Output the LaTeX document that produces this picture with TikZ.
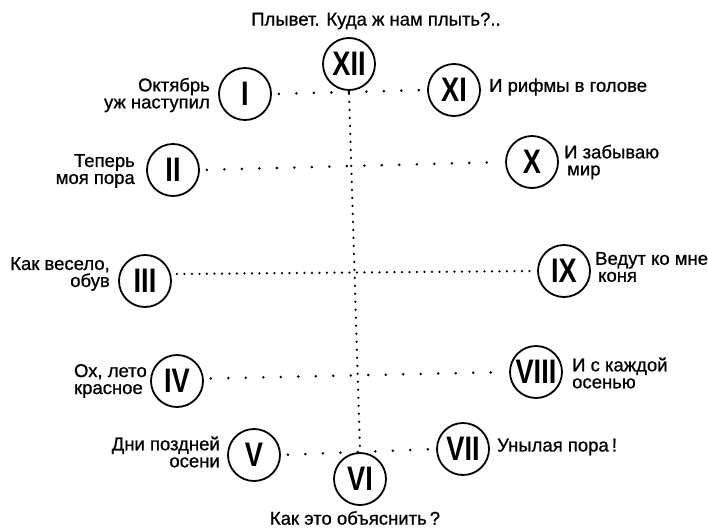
\documentclass[tikz,border=0pt]{standalone}
\usepackage{fontspec}
\setmainfont{Liberation Sans}[FakeBold=0.8]
\newfontfamily\lblfont[FakeBold=0.8]{Liberation Sans}
\newfontfamily\numfont[FakeStretch=0.8]{Liberation Sans Bold}
\begin{document}
\begin{tikzpicture}[x=1pt, y=-1pt,
  num/.style={circle, draw, line width=1.8pt, minimum size=52pt, inner sep=0pt,
    font=\numfont\fontsize{34}{34}\selectfont},
  lbl/.style={font=\lblfont\fontsize{18.5}{17}\selectfont, inner sep=0pt},
  sparse/.style={line width=2.8pt, line cap=round, dash pattern=on 0pt off 17.5pt,
    shorten <=7pt, shorten >=5pt},
  dense/.style={line width=2.5pt, line cap=round, dash pattern=on 0pt off 7.5pt,
    shorten <=6pt, shorten >=4pt},
  vdots/.style={line width=2.5pt, line cap=round, dash pattern=on 0pt off 8pt,
    shorten <=3pt}]
\useasboundingbox (0,0) rectangle (708,530);

% circles
\node[num] (XII)  at (349,64)  {XII};
\node[num] (I)    at (245,94)  {I};
\node[num] (XI)   at (454,90)  {XI};
\node[num] (II)   at (173,170) {II};
\node[num] (X)    at (532,162) {X};
\node[num] (III)  at (145,281) {III};
\node[num] (IX)   at (564,271) {IX};
\node[num] (IV)   at (177,381) {IV};
\node[num] (VIII) at (536,372) {VIII};
\node[num] (V)    at (254,455) {V};
\node[num] (VII)  at (463,449) {VII};
\node[num] (VI)   at (360,479) {VI};

% labels
\node[lbl] (ttop) at (376,21) {Плывет. Куда ж нам плыть?..};
\node[lbl] (tbot) at (355,518) {Как это объяснить\,?};
\node[lbl, anchor=east, align=right] (t1) at (210,95)  {Октябрь\\уж наступил};
\node[lbl, anchor=east, align=right] (t2) at (135,171) {Теперь\\моя пора};
\node[lbl, anchor=east, align=right] (t3) at (110,274) {Как весело,\\обув};
\node[lbl, anchor=east, align=left]  (t4) at (147,381) {Ох, лето\\красное};
\node[lbl, anchor=east, align=right] (t5) at (220,452) {Дни поздней\\осени};
\node[lbl, anchor=west, align=left]  (t11) at (489,87)  {И рифмы в голове};
\node[lbl, anchor=west, align=left]  (t10) at (564,162) {И забываю\\\hspace{3pt}мир};
\node[lbl, anchor=west, align=left]  (t9)  at (595,267) {Ведут ко мне\\\hspace{3pt}коня};
\node[lbl, anchor=west, align=left]  (t8)  at (572,373) {И с каждой\\осенью};
\node[lbl, anchor=west, align=left]  (t7)  at (497,447) {Унылая пора\,!};

% dotted connectors
\draw[sparse] (I.east) -- (XI.west);
\draw[sparse] (II.east) -- (X.west);
\draw[dense]  (III.15) -- (IX.west);
\draw[sparse] (IV.5) -- (VIII.west);
\draw[sparse] (V.east) -- (VII.west);
\draw[vdots]  (XII.south) -- (VI.north);
\end{tikzpicture}
\end{document}
